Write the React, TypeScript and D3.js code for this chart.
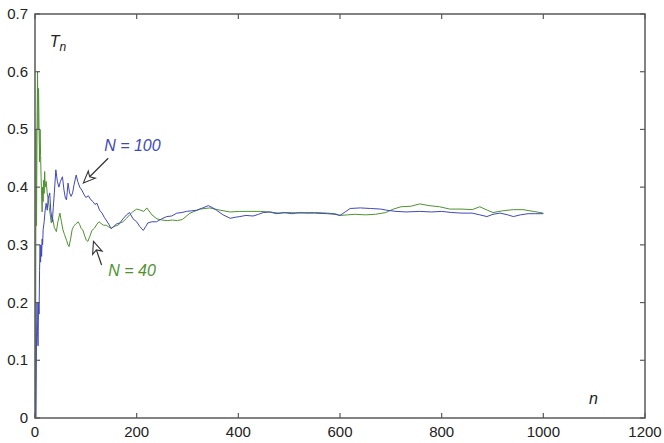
import React from "react";
import * as d3 from "d3";

const xTicks = [0, 200, 400, 600, 800, 1000, 1200];
const yTicks = [0, 0.1, 0.2, 0.3, 0.4, 0.5, 0.6, 0.7];

// N = 100 series (blue): [n, T_n]
const blueN = [1,2,3,4,5,6,7,8,9,10,11,12,13,14,15,16,18,20,22,24,26,29,31,34,36,38,41,44,47,50,54,57,60,62,65,68,71,74,77,81,84,88,92,96,100,105,110,114,118,122,127,132,136,140,145,150,155,160,167,173,180,186,193,200,206,213,218,222,230,239,249,259,269,279,289,298,308,318,330,341,350,357,370,384,395,403,415,429,440,449,462,475,490,505,520,535,550,575,590,600,610,620,640,660,680,692,710,730,757,780,800,820,840,860,875,889,901,915,930,941,955,970,985,1000];
const blueT = [0,0,0.14,0.2,0.15,0.125,0.2,0.18,0.256,0.3,0.27,0.3,0.28,0.31,0.3,0.326,0.34,0.36,0.372,0.36,0.38,0.39,0.36,0.34,0.365,0.39,0.43,0.41,0.4,0.41,0.418,0.395,0.38,0.378,0.407,0.39,0.384,0.39,0.405,0.421,0.41,0.4,0.395,0.388,0.382,0.385,0.378,0.375,0.37,0.372,0.36,0.355,0.348,0.343,0.336,0.328,0.332,0.336,0.338,0.345,0.352,0.356,0.345,0.34,0.332,0.325,0.332,0.338,0.34,0.34,0.345,0.349,0.35,0.355,0.356,0.358,0.359,0.36,0.364,0.368,0.364,0.36,0.352,0.346,0.348,0.349,0.351,0.35,0.353,0.356,0.357,0.354,0.356,0.354,0.356,0.355,0.355,0.354,0.353,0.351,0.357,0.363,0.364,0.363,0.362,0.36,0.358,0.357,0.358,0.357,0.358,0.356,0.355,0.355,0.352,0.349,0.353,0.355,0.352,0.349,0.352,0.354,0.354,0.354];

// N = 40 series (green): [n, T_n]
const greenN = [1,2,3,4,5,6,7,8,9,10,11,12,13,14,15,16,17,18,19,20,22,24,26,28,30,32,35,38,42,45,49,52,55,58,62,65,67,70,73,76,80,85,88,91,94,98,101,104,108,112,117,122,126,130,135,140,145,150,156,163,168,173,180,186,192,200,208,214,220,230,240,250,260,270,280,290,305,325,344,364,384,403,423,443,460,480,500,520,540,550,575,590,600,615,630,650,670,690,705,720,740,757,775,796,816,840,860,875,890,901,920,941,960,980,1000];
const greenT = [0,0.5,0.333,0.5,0.6,0.5,0.571,0.5,0.444,0.5,0.455,0.417,0.385,0.357,0.4,0.375,0.412,0.389,0.427,0.4,0.41,0.39,0.378,0.365,0.352,0.338,0.345,0.33,0.323,0.34,0.355,0.34,0.326,0.318,0.308,0.3,0.297,0.31,0.326,0.332,0.336,0.34,0.335,0.328,0.326,0.315,0.308,0.306,0.315,0.325,0.329,0.336,0.34,0.337,0.334,0.334,0.331,0.329,0.332,0.334,0.338,0.34,0.346,0.352,0.357,0.362,0.36,0.358,0.364,0.352,0.345,0.343,0.342,0.343,0.342,0.344,0.355,0.362,0.364,0.36,0.357,0.358,0.358,0.358,0.357,0.355,0.356,0.355,0.356,0.356,0.355,0.354,0.351,0.352,0.353,0.352,0.353,0.356,0.362,0.366,0.367,0.371,0.368,0.366,0.362,0.362,0.361,0.366,0.36,0.356,0.359,0.361,0.361,0.358,0.355];

const W = 664;
const H = 443;
const margin = { left: 35, right: 19, top: 14, bottom: 25 };

const BLUE = "#4048bd";
const GREEN = "#4f9330";
const AXIS = "#5a5a5a";
const FONT = "'Liberation Sans', Arial, Helvetica, sans-serif";

function Arrow({ x1, y1, x2, y2 }: { x1: number; y1: number; x2: number; y2: number }) {
  // (x1,y1) tail, (x2,y2) tip; hollow triangular head
  const dx = x2 - x1;
  const dy = y2 - y1;
  const len = Math.hypot(dx, dy);
  const ux = dx / len;
  const uy = dy / len;
  const hl = 12;
  const hw = 5;
  const bx = x2 - ux * hl;
  const by = y2 - uy * hl;
  const px = -uy;
  const py = ux;
  const pts = [
    [x2, y2],
    [bx + px * hw, by + py * hw],
    [bx + ux * 3, by + uy * 3],
    [bx - px * hw, by - py * hw],
  ];
  return (
    <g>
      <line x1={x1} y1={y1} x2={bx + ux * 3} y2={by + uy * 3} stroke="#333" strokeWidth={1.2} />
      <polygon points={pts.map((p) => p.join(",")).join(" ")} fill="#fff" stroke="#333" strokeWidth={1.1} strokeLinejoin="miter" />
    </g>
  );
}

export default function App() {
  const x = d3.scaleLinear().domain([0, 1200]).range([margin.left, W - margin.right]);
  const y = d3.scaleLinear().domain([0, 0.7]).range([H - margin.bottom, margin.top]);
  const line = d3
    .line<[number, number]>()
    .x((d) => x(d[0]))
    .y((d) => y(d[1]));
  const blue: [number, number][] = blueN.map((n, i) => [n, blueT[i]]);
  const green: [number, number][] = greenN.map((n, i) => [n, greenT[i]]);

  const x0 = x(0), x1 = x(1200), y0 = y(0), y1 = y(0.7);
  const tl = 5;

  return (
    <div style={{ position: "absolute", left: 0, top: 0 }}>
      <svg width={W} height={H} style={{ display: "block", background: "#fff" }}>
        <path d={line(green) || ""} fill="none" stroke={GREEN} strokeWidth={1} />
        <path d={line(blue) || ""} fill="none" stroke={BLUE} strokeWidth={1} />

        {/* box */}
        <rect x={x0} y={y1} width={x1 - x0} height={y0 - y1} fill="none" stroke={AXIS} strokeWidth={1.5} />
        {xTicks.map((t) => (
          <g key={"x" + t}>
            <line x1={x(t)} x2={x(t)} y1={y0} y2={y0 - tl} stroke={AXIS} strokeWidth={1.2} />
            <line x1={x(t)} x2={x(t)} y1={y1} y2={y1 + tl} stroke={AXIS} strokeWidth={1.2} />
            <text x={x(t)} y={y0 + 19} textAnchor="middle" fontFamily={FONT} fontSize={15} fill="#222">
              {t}
            </text>
          </g>
        ))}
        {yTicks.map((t) => (
          <g key={"y" + t}>
            <line x1={x0} x2={x0 + tl} y1={y(t)} y2={y(t)} stroke={AXIS} strokeWidth={1.2} />
            <line x1={x1} x2={x1 - tl} y1={y(t)} y2={y(t)} stroke={AXIS} strokeWidth={1.2} />
            <text x={x0 - 7} y={y(t) + 5} textAnchor="end" fontFamily={FONT} fontSize={15} fill="#222">
              {t === 0 ? "0" : t.toFixed(1)}
            </text>
          </g>
        ))}

        {/* axis labels */}
        <text x={x(29)} y={y(0.643)} fontFamily={FONT} fontSize={16} fontStyle="italic" fill="#222">
          T<tspan fontSize={12} dy={4}>n</tspan>
        </text>
        <text x={x(1090)} y={y(0.025)} fontFamily={FONT} fontSize={16} fontStyle="italic" fill="#222">
          n
        </text>

        {/* annotations */}
        <text x={x(136)} y={y(0.463)} fontFamily={FONT} fontSize={16} fontStyle="italic" fill={BLUE}>
          N = 100
        </text>
        <Arrow x1={x(144)} y1={y(0.45)} x2={x(95)} y2={y(0.407)} />
        <text x={x(144)} y={y(0.246)} fontFamily={FONT} fontSize={16} fontStyle="italic" fill={GREEN}>
          N = 40
        </text>
        <Arrow x1={x(131)} y1={y(0.265)} x2={x(115)} y2={y(0.306)} />
      </svg>
    </div>
  );
}
